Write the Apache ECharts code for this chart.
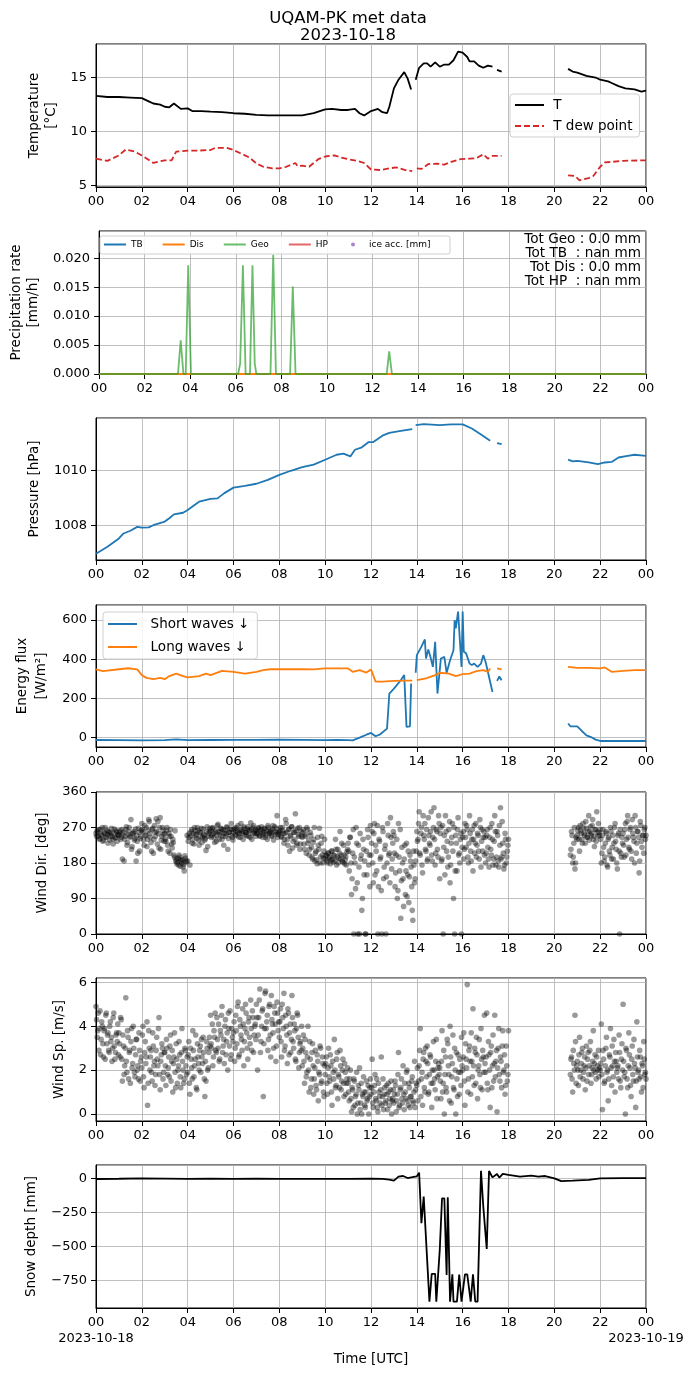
<!DOCTYPE html>
<html><head><meta charset="utf-8">
<script src="https://cdn.jsdelivr.net/npm/echarts@6/dist/echarts.min.js"></script>
<style>html,body{margin:0;padding:0;background:#fff}#c{width:696px;height:1377px}</style>
</head><body><div id="c"></div>
<script>
// ---------- DATA ----------
const titleLines = ['UQAM-PK met data', '2023-10-18'];
const dateLabels = ['2023-10-18', '2023-10-19'];
const dateLabelHours = [0, 24];
const precipTotals = ['Tot Geo : 0.0 mm', 'Tot TB  : nan mm', 'Tot Dis : 0.0 mm', 'Tot HP  : nan mm'];

// Temperature (hours UTC, °C)
const tempT = [0,0.5,1.0,1.5,2.0,2.3,2.5,2.8,3.0,3.2,3.4,3.7,4.0,4.2,4.6,5.0,5.5,6.0,6.5,7.0,7.5,8.0,8.5,9.0,9.5,10.0,10.3,10.7,11.0,11.3,11.5,11.7,12.0,12.3,12.5,12.7,12.8,13.0,13.2,13.45,13.6,13.75,13.85,13.95,14.1,14.3,14.45,14.6,14.8,15.0,15.2,15.4,15.6,15.8,16.0,16.2,16.3,16.5,16.7,16.9,17.1,17.3,17.4,17.5,17.7,17.8,20.6,20.8,21.0,21.4,21.8,22.0,22.35,22.5,22.8,23.1,23.5,23.8,24];
const tempV = [13.3,13.2,13.2,13.15,13.1,12.8,12.6,12.5,12.3,12.25,12.6,12.1,12.15,11.9,11.9,11.85,11.8,11.7,11.65,11.55,11.5,11.5,11.5,11.5,11.7,12.05,12.1,12.0,12.0,12.1,11.7,11.5,11.9,12.1,11.8,11.7,12.3,14.0,14.8,15.5,14.9,13.9,null,14.8,15.9,16.3,16.3,16.0,16.4,16.0,16.2,16.2,16.6,17.4,17.3,16.9,16.5,16.5,16.1,15.9,16.1,16.0,null,15.7,15.55,null,15.8,15.55,15.45,15.15,15.0,14.8,14.65,14.5,14.2,14.0,13.9,13.7,13.8];
const dewT = [0,0.5,1.0,1.3,1.7,2.0,2.5,3.0,3.3,3.5,4.0,4.5,5.0,5.2,5.7,6.0,6.3,6.7,7.0,7.3,7.7,8.0,8.3,8.7,8.8,9.0,9.3,9.7,10.0,10.4,10.7,11.0,11.4,11.7,12.0,12.4,12.8,13.1,13.5,13.8,13.88,14.0,14.2,14.5,14.9,15.2,15.5,15.9,16.3,16.6,16.9,17.1,17.3,17.7,17.8,20.6,20.9,21.1,21.5,21.7,22.0,22.2,22.5,23.0,24];
const dewV = [7.5,7.3,7.8,8.35,8.15,7.8,7.1,7.35,7.35,8.15,8.25,8.25,8.3,8.5,8.5,8.3,8.0,7.6,7.05,6.75,6.6,6.6,6.75,7.1,6.8,6.85,6.75,7.45,7.7,7.8,7.6,7.45,7.3,7.1,6.5,6.45,6.6,6.7,6.45,6.35,null,6.6,6.55,7.0,7.05,6.95,7.2,7.45,7.5,7.55,7.9,7.5,7.75,7.75,null,5.95,5.9,5.5,5.7,5.9,6.75,7.15,7.2,7.3,7.35];

// Precipitation rate (mm/h)
const geoT = [0,3.46,3.58,3.70,3.80,3.91,4.03,6.10,6.19,6.31,6.43,6.62,6.73,6.83,6.90,7.52,7.64,7.76,8.38,8.50,8.62,12.62,12.73,12.85,24];
const geoV = [0,0,0.0058,0,0,0.0188,0,0,0.0018,0.0188,0,0,0.0188,0.0018,0,0,0.0206,0,0,0.0151,0,0,0.0039,0,0];
const disT = [0,24];
const disV = [0,0];

// Pressure (hPa)
const presT = [0,0.5,1.0,1.2,1.5,1.8,2.0,2.3,2.5,3.0,3.2,3.4,3.8,4.0,4.3,4.5,5.0,5.3,5.6,6.0,6.5,7.0,7.5,8.0,8.5,9.0,9.5,10.0,10.5,10.8,11.1,11.3,11.6,11.9,12.1,12.5,12.8,13.3,13.8,13.88,13.95,14.3,15.0,15.5,16.0,16.4,16.8,17.2,17.35,17.5,17.7,17.8,20.6,20.8,21.0,21.5,21.9,22.2,22.5,22.8,23.2,23.5,24];
const presV = [1006.99,1007.24,1007.54,1007.72,1007.82,1007.96,1007.93,1007.94,1008.02,1008.15,1008.27,1008.41,1008.47,1008.57,1008.75,1008.87,1008.97,1008.99,1009.18,1009.38,1009.44,1009.52,1009.66,1009.84,1009.99,1010.12,1010.21,1010.39,1010.57,1010.61,1010.51,1010.75,1010.84,1011.03,1011.03,1011.26,1011.36,1011.43,1011.50,null,1011.64,1011.68,1011.64,1011.67,1011.67,1011.52,1011.30,1011.08,null,1010.99,1010.95,null,1010.39,1010.33,1010.35,1010.29,1010.23,1010.29,1010.31,1010.47,1010.53,1010.57,1010.53];

// Energy flux (W/m2)
const swT = [0,1,2,3,3.5,4,5,6,7,8,9,10,10.5,11,11.2,11.5,11.8,12.0,12.2,12.4,12.7,12.8,13.0,13.3,13.45,13.55,13.7,13.75,13.85,13.95,14.0,14.2,14.35,14.4,14.5,14.6,14.7,14.8,14.9,15.05,15.2,15.3,15.45,15.6,15.65,15.7,15.8,15.85,15.95,16.0,16.05,16.15,16.3,16.4,16.5,16.65,16.8,16.9,17.0,17.3,17.4,17.5,17.6,17.7,17.8,20.6,20.7,21.0,21.2,21.4,21.6,21.8,22.0,23,24];
const swV = [-12,-13,-14,-13,-9,-13,-12,-11,-11,-10,-11,-13,-12,-13,-14,0,15,24,7,17,46,225,250,293,319,55,58,276,null,331,421,464,501,404,450,409,361,489,225,404,412,331,395,446,600,557,643,651,361,643,438,430,378,370,378,361,378,421,387,233,null,290,312,293,null,72,58,58,34,12,3,-10,-17,-17,-17];
const lwT = [0,0.3,1.0,1.4,1.8,2.0,2.2,2.5,2.8,3.0,3.2,3.5,3.8,4.0,4.5,4.8,5.0,5.5,6.0,6.5,7.0,7.3,7.6,8.0,9.0,9.5,10.0,10.5,11.0,11.2,11.5,11.8,12.0,12.2,12.5,13.0,13.5,13.8,13.88,14.0,14.4,14.8,15.0,15.4,15.7,16.0,16.3,16.6,16.9,17.1,17.2,17.35,17.5,17.7,17.8,20.6,21.0,21.5,22.0,22.2,22.5,23.0,23.5,24];
const lwV = [348,339,349,354,348,319,305,298,305,298,314,327,314,307,314,327,319,341,336,327,336,344,349,349,349,348,353,353,353,336,344,332,348,286,286,290,291,291,null,293,302,319,331,327,314,324,327,339,344,336,353,null,353,348,null,361,356,356,353,358,336,341,344,344];

// Wind (3-minute samples, two interleaved passes 1.5 min apart)
const windStepH = 0.05;
const windStartA = 0, windStartA2 = 0.025;
const windStartB = 20.7, windStartB2 = 20.725;
const windDirA = [
255,262,248,240,265,250,235,258,270,245,252,260,238,255,248,228,266,244,259,251,
250,262,245,190,258,240,265,225,252,270,248,215,255,260,242,185,235,268,210,247,
280,260,225,250,270,240,290,255,232,265,205,275,248,260,285,218,295,238,270,252,
255,235,270,210,248,265,228,240,200,262,190,182,175,195,188,180,170,160,192,185,
185,245,175,260,230,255,270,250,242,262,225,258,268,245,252,238,212,272,248,260,
262,250,270,245,258,235,275,260,252,268,240,265,255,248,272,215,258,266,280,245,
258,268,250,262,275,255,245,265,260,272,252,258,266,248,262,282,240,270,256,264,
262,255,270,248,265,258,252,268,245,262,275,255,260,250,266,238,272,258,300,252,
258,270,245,262,230,255,280,240,265,210,250,272,235,258,305,225,268,248,215,260,
245,265,215,252,270,230,200,258,220,190,240,185,210,178,225,268,195,248,180,210,
190,200,180,205,195,188,210,182,198,240,175,215,192,260,200,185,225,178,196,208,
230,160,245,100,205,0,180,270,130,225,0,190,60,240,150,0,210,265,175,120,
200,260,130,280,225,160,0,240,190,110,270,140,215,0,180,250,205,295,165,230,
250,120,200,90,280,160,40,220,140,190,100,230,150,80,200,170,60,210,130,185,
260,240,310,200,270,155,250,280,210,185,295,230,260,200,245,320,175,265,215,300,
140,270,190,0,250,300,210,170,265,130,230,280,90,0,250,160,295,205,240,0,
245,190,280,220,265,180,300,210,240,160,275,230,195,255,210,290,170,265,245,200,
180,250,220,170,270,200,240,190,300,175,260,185,275,320,195,230,165,255,180,210,
240];
const windDirA2 = [
248,258,265,242,252,270,238,255,246,262,230,258,249,268,240,256,244,262,235,252,
258,240,265,252,185,248,272,232,260,245,290,222,255,238,266,250,205,258,242,262,
265,238,275,250,222,262,285,245,210,268,240,258,292,228,255,270,215,248,262,235,
240,262,225,255,205,248,218,232,195,185,178,192,200,172,185,188,176,198,182,250,
235,255,248,265,240,228,262,252,270,238,258,246,232,266,250,242,260,222,255,268,
245,268,255,232,262,250,278,240,258,266,248,225,262,255,270,242,258,250,265,238,
265,252,270,258,246,262,280,255,240,268,258,250,272,262,245,266,254,275,260,248,
255,268,250,262,272,245,258,266,252,240,270,256,262,248,275,260,252,268,245,258,
262,248,270,255,240,290,258,225,266,248,272,218,258,240,262,230,252,270,228,248,
258,228,248,205,265,238,215,250,195,232,270,205,188,245,215,180,230,200,192,240,
198,185,205,192,178,210,188,200,185,215,195,180,205,190,230,182,200,188,175,215,
210,245,180,140,265,195,115,230,0,170,255,200,90,215,185,0,150,245,200,275,
230,180,255,150,210,275,120,235,195,0,260,170,225,145,280,200,130,245,190,260,
205,155,240,110,195,265,135,180,70,225,160,95,210,145,185,120,35,175,140,210,
235,280,205,255,175,300,240,215,265,190,250,225,310,185,270,240,205,260,195,280,
255,185,275,220,150,260,235,195,285,175,245,210,270,160,230,265,200,180,255,220,
260,215,245,275,195,230,255,185,265,240,205,280,225,250,190,270,235,210,260,245,
205,265,190,245,215,280,175,235,260,195,250,170,225,190,285,205,175,240,195,225];
const windDirB = [
200,260,180,230,165,245,
250,270,210,262,240,280,255,230,268,245,300,260,250,275,240,222,265,310,248,258,
265,180,250,220,195,260,175,240,210,270,190,250,230,280,215,165,255,0,205,245,
255,195,280,240,300,220,265,210,290,245,180,270,230,260,155,285,235,250,205,270,
250];
const windDirB2 = [
215,250,195,270,180,240,
262,240,275,255,230,268,250,285,245,260,238,272,255,290,248,265,235,258,280,250,
240,205,265,185,230,255,170,245,200,260,220,190,270,235,180,250,210,265,195,230,
225,265,200,285,245,215,270,190,255,235,300,205,260,245,185,275,220,250,265,240];
const windSpA = [
4.9,3.5,4.6,3.9,2.7,4.2,3.2,3.8,2.5,4.6,3.6,2.9,4.0,3.3,2.4,4.4,3.1,2.8,3.7,4.1,
3.7,2.6,4.3,1.5,3.1,2.2,5.3,1.9,3.5,2.8,1.4,3.9,2.3,3.0,1.7,3.4,2.0,1.6,2.9,2.4,
2.1,4.0,1.2,3.3,2.6,0.4,3.8,2.0,2.9,1.5,3.1,2.4,1.8,3.5,2.2,4.4,1.1,2.7,3.0,1.9,
2.8,1.3,3.0,2.1,1.7,3.6,2.4,1.0,2.6,1.9,3.2,1.4,2.2,2.7,1.2,3.9,2.0,1.6,2.9,1.8,
1.9,3.3,0.9,2.5,1.6,2.9,2.2,3.6,1.1,2.6,2.0,3.1,3.4,2.3,2.8,0.8,1.5,3.0,2.1,3.5,
4.5,3.0,2.2,3.8,4.6,2.8,3.4,4.1,2.5,3.6,4.9,3.1,2.3,4.3,3.3,2.0,3.9,4.7,2.7,3.5,
3.7,2.4,4.5,3.2,5.1,2.7,4.0,3.4,4.8,2.2,3.9,4.6,3.0,4.2,3.5,5.2,2.9,4.4,3.6,4.1,
5.0,2.0,4.4,5.7,3.3,4.7,0.8,3.9,5.6,4.2,2.9,4.9,3.6,5.4,4.1,3.0,4.6,2.4,5.1,3.8,
3.5,4.8,2.6,4.4,5.5,3.1,4.0,2.3,4.6,3.7,2.8,5.4,3.3,4.1,2.5,3.9,4.5,2.1,3.2,2.9,
2.2,3.6,1.4,2.8,1.9,4.0,1.0,2.5,1.6,3.2,0.9,2.1,1.3,2.7,0.6,1.8,3.0,1.5,2.3,0.8,
1.8,2.6,0.9,3.0,1.5,2.2,0.4,1.9,3.4,1.2,2.5,0.7,1.7,2.9,1.1,2.0,1.4,2.3,0.9,1.6,
1.4,0.6,2.0,0.1,1.1,1.6,0.4,0.9,0.0,1.3,2.1,0.5,0.0,0.8,1.0,0.3,1.5,0.7,0.0,1.2,
0.9,2.5,0.3,1.3,0.7,1.6,0.1,1.0,0.5,2.6,0.8,0.2,1.2,0.6,0.9,1.4,0.4,1.1,0.0,0.7,
0.5,1.5,0.1,0.9,2.8,0.4,1.2,0.7,2.2,0.2,1.0,1.9,0.6,1.4,0.3,0.8,1.7,0.5,2.4,1.1,
1.3,0.6,2.2,3.9,1.6,0.4,2.8,1.0,2.4,3.1,0.9,1.8,2.6,0.3,1.4,2.0,1.1,3.4,1.7,2.3,
2.1,0.7,3.8,1.4,0.0,2.6,1.0,3.2,1.8,4.0,0.5,2.3,1.2,3.0,0.0,1.6,2.7,0.9,1.9,3.5,
2.0,3.7,0.4,2.5,5.9,1.6,3.1,0.9,2.4,4.8,1.3,2.8,3.5,0.7,2.2,1.8,3.9,1.1,2.6,4.5,
1.9,4.6,1.1,2.7,0.3,3.1,2.2,1.5,4.5,2.4,0.1,3.0,1.8,2.6,1.2,3.8,2.0,0.9,3.1,1.5,
3.8];
const windSpA2 = [
4.3,3.8,2.9,4.7,3.4,4.0,2.6,3.9,4.5,3.2,3.7,2.8,4.2,3.5,3.0,4.6,2.5,3.6,3.3,2.7,
3.2,4.4,2.5,3.6,1.8,3.0,2.4,3.8,1.6,2.9,3.3,2.1,4.0,1.9,2.7,3.4,2.2,3.7,1.5,2.6,
3.6,1.7,2.8,2.3,4.2,1.4,3.0,2.6,1.9,3.7,2.2,1.3,2.9,2.5,3.9,1.8,2.4,3.2,1.6,2.8,
2.2,3.4,1.8,2.6,3.1,1.5,2.9,2.3,3.7,1.2,2.5,2.0,3.3,1.7,2.8,2.4,1.4,3.0,2.2,2.6,
2.7,1.4,3.0,2.1,3.8,1.7,2.5,1.2,3.2,2.3,2.9,1.9,2.6,3.5,1.6,2.4,3.3,2.0,2.8,3.1,
3.2,4.1,2.6,3.5,2.9,4.4,3.0,2.4,3.8,4.5,2.8,3.4,4.0,2.7,3.7,4.6,3.1,2.5,3.9,3.3,
4.2,3.0,3.8,4.9,2.6,4.3,3.6,2.9,4.1,3.3,5.0,3.7,2.5,4.4,3.2,3.9,4.7,2.8,4.0,3.4,
4.4,3.6,5.2,2.8,4.0,4.8,3.2,5.5,3.9,4.5,3.4,5.0,2.6,4.3,3.7,4.9,4.1,3.1,4.6,4.2,
4.2,3.3,5.0,3.9,2.9,4.5,3.6,4.8,2.7,4.1,3.4,4.4,3.0,3.8,2.4,4.6,3.5,2.8,3.3,4.0,
3.0,2.4,3.4,1.7,2.6,2.0,3.3,1.2,2.8,2.2,1.6,2.9,1.1,2.4,1.9,3.1,1.4,2.6,1.0,2.2,
2.3,1.4,2.1,1.7,2.7,1.0,2.4,1.6,2.0,1.3,2.8,1.8,1.2,2.2,1.5,2.5,0.8,1.9,1.4,2.1,
1.0,1.6,0.7,1.2,0.3,1.5,0.8,1.9,0.5,1.1,0.2,1.4,0.9,1.7,0.4,1.0,0.6,1.3,0.8,1.6,
1.2,0.5,1.0,1.8,0.6,0.3,1.4,0.8,1.1,0.4,1.6,0.9,0.5,1.3,0.2,1.0,0.7,1.5,0.6,1.1,
0.9,1.3,0.6,1.8,0.3,1.1,1.6,0.5,0.9,1.4,0.7,2.0,0.4,1.2,0.8,1.5,0.6,1.0,0.3,1.4,
2.1,1.5,2.9,0.8,1.9,2.5,1.2,3.0,1.7,2.3,1.0,2.7,1.4,2.0,3.3,1.6,2.4,0.7,2.1,1.8,
1.5,2.4,1.0,2.9,1.8,1.2,3.4,2.2,0.6,2.6,1.7,3.6,1.1,2.0,2.8,0.8,1.9,2.5,1.3,2.2,
2.6,1.5,3.2,2.1,1.0,2.9,2.4,3.7,1.7,2.2,3.0,1.4,2.7,2.0,3.4,1.2,2.5,2.9,1.9,2.3,
2.6,1.4,3.3,2.0,2.8,1.2,3.6,2.3,1.7,2.9,2.1,3.9,1.5,2.4,3.1,1.9,2.7,1.3,2.2,1.8];
const windSpB = [
1.8,2.6,1.0,2.3,4.5,1.4,
2.4,1.3,3.5,2.0,2.8,1.6,2.2,1.1,3.1,2.5,1.8,2.9,1.4,2.1,3.8,2.3,1.9,2.6,2.0,1.7,
2.0,4.1,0.2,2.5,1.5,3.0,1.9,0.6,2.7,3.9,1.3,2.2,3.4,1.0,2.4,2.1,1.6,2.8,1.2,3.2,
5.0,1.7,0.0,2.9,1.2,3.7,2.1,0.8,3.1,1.5,2.3,0.3,4.2,1.9,1.6,2.6,1.0,2.2,3.3,1.8,
1.6];
const windSpB2 = [
2.5,1.6,2.9,2.0,3.3,2.2,
2.0,2.7,1.7,2.3,3.0,1.9,2.6,2.1,1.5,2.8,2.2,3.3,1.8,2.4,2.0,2.7,1.6,2.2,2.9,2.1,
2.3,1.8,2.9,1.4,2.2,3.5,2.0,1.6,2.6,2.1,3.1,1.7,2.4,2.8,1.9,2.2,3.6,1.5,2.5,2.0,
2.4,1.9,3.0,1.6,2.2,2.7,1.3,2.5,1.8,3.4,2.1,1.5,2.6,2.0,2.9,1.7,2.3,1.2,2.5,1.9];

// Snow depth (mm)
const snowT = [0,1,2,3,4,5,6,7,8,9,10,11,12,12.5,12.8,13.0,13.2,13.4,13.6,13.8,14.0,14.1,14.2,14.3,14.55,14.65,14.8,14.85,15.0,15.1,15.2,15.3,15.35,15.45,15.55,15.6,15.75,15.85,15.95,16.1,16.2,16.35,16.45,16.55,16.65,16.8,16.9,17.05,17.15,17.3,17.5,17.6,17.75,18.0,18.5,19.0,19.3,19.6,20.0,20.3,20.8,21.5,22.0,23.0,24];
const snowV = [-5,-3,0,-2,-4,-3,-4,-3,-4,-4,-4,-4,-3,-4,-10,-17,12,17,2,8,15,42,-330,-135,-907,-703,-703,-907,-527,-147,-147,-711,-140,-907,-706,-907,-907,-708,-907,-706,-706,-907,-706,-907,-907,56,-208,-520,54,7,32,5,32,25,12,20,12,17,0,-20,-17,-12,0,2,2];

// ---------- BUILD ----------
const FONT = 'DejaVu Sans';
const zip = (t, v) => t.map((x, i) => [x, v[i]]);
const seg = (start, v) => v.map((y, i) => [start + i * windStepH, y]);

const tops = [44, 231, 418, 605, 792, 978, 1165];
const heights = [143, 143, 142, 142, 142, 143, 143];
const grids = tops.map((t, i) => ({left: 96, width: 550, top: t, height: heights[i], show: true, borderColor: '#000', borderWidth: 1, backgroundColor: 'transparent'}));

const hourLabel = v => v === 24 ? '00' : String(v).padStart(2, '0');
const xAxes = tops.map((t, i) => {
  const last = i === tops.length - 1;
  return {
    type: 'value', gridIndex: i, min: 0, max: 24, interval: 2,
    axisLine: {show: true, onZero: false, lineStyle: {color: '#000', width: 1}},
    axisTick: {show: true, length: 5, lineStyle: {color: '#000'}},
    splitLine: {show: true, lineStyle: {color: '#b0b0b0', width: 0.8}},
    axisLabel: {color: '#000', fontSize: 13, fontFamily: FONT, margin: 8, showMinLabel: true, showMaxLabel: true, formatter: hourLabel},
    name: last ? 'Time [UTC]' : '', nameLocation: 'middle', nameGap: 44,
    nameTextStyle: {color: '#000', fontSize: 13.5, fontFamily: FONT}
  };
});

const minus = v => v < 0 ? '\u2212' + (-v) : String(v);
const yDefs = [
  {name: 'Temperature\n[°C]', min: 4.88, max: 18.1, iv: 5, gap: 28, minL: false, maxL: false},
  {name: 'Precipitation rate\n[mm/h]', min: 0, max: 0.0247, iv: 0.005, gap: 55, minL: true, maxL: false, fmt: v => v.toFixed(3)},
  {name: 'Pressure [hPa]', min: 1006.76, max: 1011.9, iv: 2, gap: 46, minL: false, maxL: false},
  {name: 'Energy flux\n[W/m²]', min: -47.7, max: 676.7, iv: 200, gap: 44, minL: false, maxL: false, lh: 19},
  {name: 'Wind Dir. [deg]', min: 0, max: 360, iv: 90, gap: 42, minL: true, maxL: true},
  {name: 'Wind Sp. [m/s]', min: -0.32, max: 6.2, iv: 2, gap: 21, minL: false, maxL: false},
  {name: 'Snow depth [mm]', min: -954, max: 98, iv: 250, gap: 48, minL: false, maxL: false, fmt: minus}
];
const yAxes = yDefs.map((d, i) => ({
  type: 'value', gridIndex: i, min: d.min, max: d.max, minInterval: d.iv, maxInterval: d.iv,
  splitNumber: 3,
  axisLine: {show: true, lineStyle: {color: '#000', width: 1}},
  axisTick: {show: true, length: 5, lineStyle: {color: '#000'}},
  splitLine: {show: true, lineStyle: {color: '#b0b0b0', width: 0.8}},
  axisLabel: {color: '#000', fontSize: 13, fontFamily: FONT, margin: 9, showMinLabel: d.minL, showMaxLabel: d.maxL, formatter: d.fmt || (v => String(v))},
  name: d.name, nameLocation: 'middle', nameRotate: 90, nameGap: d.gap,
  nameTextStyle: {color: '#000', fontSize: 13.5, fontFamily: FONT, lineHeight: d.lh || 17}
}));

const line = (name, gi, data, color, extra) => Object.assign({
  name, type: 'line', xAxisIndex: gi, yAxisIndex: gi, data, symbol: 'none', showSymbol: false,
  connectNulls: false, animation: false, lineStyle: {color, width: 1.8}, itemStyle: {color}
}, extra || {});
const scatter = (name, gi, data) => ({
  name, type: 'scatter', xAxisIndex: gi, yAxisIndex: gi, data, symbolSize: 5.6, animation: false,
  itemStyle: {color: 'rgba(0,0,0,0.5)'}
});

const series = [
  line('T', 0, zip(tempT, tempV), '#000000'),
  line('T dew point', 0, zip(dewT, dewV), '#d62728', {lineStyle: {color: '#d62728', width: 1.8, type: [6, 3]}}),
  line('TB', 1, [], '#1f77b4'),
  line('Dis', 1, zip(disT, disV), '#ff7f0e'),
  line('Geo', 1, zip(geoT, geoV), 'rgba(44,160,44,0.7)'),
  line('HP', 1, [], 'rgba(214,39,40,0.7)'),
  {name: 'ice acc. [mm]', type: 'scatter', xAxisIndex: 1, yAxisIndex: 1, data: [], symbol: 'circle', itemStyle: {color: '#9467bd'}},
  line('Pressure', 2, zip(presT, presV), '#1f77b4'),
  line('Short waves \u2193', 3, zip(swT, swV), '#1f77b4'),
  line('Long waves \u2193', 3, zip(lwT, lwV), '#ff7f0e'),
  scatter('WindDirA', 4, seg(windStartA, windDirA)),
  scatter('WindDirA2', 4, seg(windStartA2, windDirA2)),
  scatter('WindDirB', 4, seg(windStartB, windDirB)),
  scatter('WindDirB2', 4, seg(windStartB2, windDirB2)),
  scatter('WindSpA', 5, seg(windStartA, windSpA)),
  scatter('WindSpA2', 5, seg(windStartA2, windSpA2)),
  scatter('WindSpB', 5, seg(windStartB, windSpB)),
  scatter('WindSpB2', 5, seg(windStartB2, windSpB2)),
  line('Snow', 6, zip(snowT, snowV), '#000000')
];

const legendBox = {borderColor: '#cfcfcf', borderWidth: 1, borderRadius: 3, backgroundColor: 'rgba(255,255,255,0.85)'};
const hideSym = {itemStyle: {opacity: 0}};
const legends = [
  Object.assign({orient: 'vertical', left: 510, top: 94, itemWidth: 29, itemHeight: 14, itemGap: 7, padding: [4, 7, 4, 4],
    data: ['T', 'T dew point'], formatter: n => ' ' + n, selectedMode: false,
    textStyle: {fontSize: 13.5, color: '#000', fontFamily: FONT}}, legendBox, hideSym),
  Object.assign({orient: 'horizontal', left: 100, top: 240, itemWidth: 22, itemHeight: 9, itemGap: 19, padding: [0, 3], z: 10,
    data: ['TB', 'Dis', 'Geo', 'HP'], selectedMode: false,
    textStyle: {fontSize: 9, color: '#000', fontFamily: FONT}}, hideSym),
  {orient: 'horizontal', left: 351, top: 240, itemWidth: 22, itemHeight: 4, padding: 0, z: 10,
    data: [{name: 'ice acc. [mm]', icon: 'circle'}], selectedMode: false,
    textStyle: {fontSize: 9, color: '#000', fontFamily: FONT, lineHeight: 9}},
  Object.assign({orient: 'vertical', left: 103, top: 612, itemWidth: 29, itemHeight: 14, itemGap: 9, padding: [5, 8, 5, 4],
    data: ['Short waves \u2193', 'Long waves \u2193'], formatter: n => '  ' + n, selectedMode: false,
    textStyle: {fontSize: 13.5, color: '#000', fontFamily: FONT}}, legendBox, hideSym)
];

// date labels under the bottom time axis, positioned through the bottom grid's x scale
const bottomGrid = grids[grids.length - 1];
const dateY = bottomGrid.top + bottomGrid.height + 31;

const option = {
  backgroundColor: '#fff',
  animation: false,
  title: {text: titleLines.join('\n'), left: 'center', top: 5, textStyle: {fontSize: 16.5, fontWeight: 'normal', color: '#000', fontFamily: FONT, lineHeight: 17}},
  grid: grids, xAxis: xAxes, yAxis: yAxes, series, legend: legends,
  graphic: [
    {type: 'rect', z: 5, shape: {x: 100, y: 236, width: 350, height: 18, r: 2}, style: {fill: 'rgba(255,255,255,0.85)', stroke: '#cfcfcf', lineWidth: 1}},
    {type: 'text', z: 6, x: 641, y: 232, style: {text: precipTotals.join('\n'), align: 'right', verticalAlign: 'top', fontSize: 13.6, fontFamily: FONT, lineHeight: 14, fill: '#000'}}
  ]
};
const chart = echarts.init(document.getElementById('c'), null, {renderer: 'canvas'});
chart.setOption(option);
// place the date labels at the axis positions of 00 h and 24 h via the chart's own coordinate conversion
const dateGraphics = dateLabelHours.map((h, i) => {
  const px = chart.convertToPixel({xAxisIndex: xAxes.length - 1}, h);
  return {type: 'text', x: px, y: dateY, style: {text: dateLabels[i], align: 'center', verticalAlign: 'middle', fontSize: 13, fontFamily: FONT, fill: '#000'}};
});
chart.setOption({graphic: option.graphic.concat(dateGraphics)});
</script></body></html>
